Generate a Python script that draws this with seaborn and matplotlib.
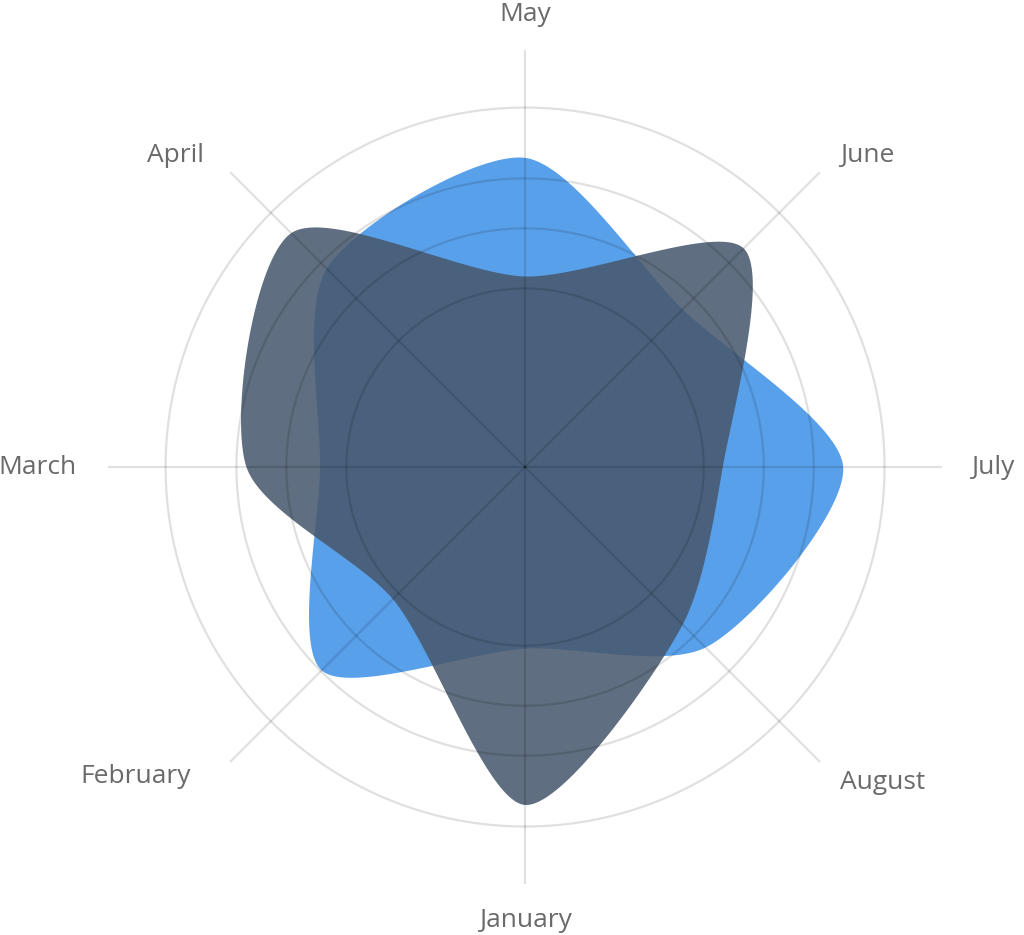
import numpy as np
import matplotlib
matplotlib.use('Agg')
import matplotlib.pyplot as plt
import seaborn as sns

# Data (scale max ring = 1)
months = ['January', 'February', 'March', 'April', 'May', 'June', 'July', 'August']
series_blue = [0.505, 0.80, 0.57, 0.78, 0.86, 0.62, 0.885, 0.71]
series_dark = [0.94, 0.52, 0.775, 0.92, 0.53, 0.86, 0.55, 0.62]
ring_levels = [0.497, 0.664, 0.803, 1.0]

sns.set_style('white')
plt.rcParams['font.family'] = ['Open Sans', 'DejaVu Sans']

n = len(months)
angles = np.arange(n) * 2 * np.pi / n


def smooth_closed(theta, r, tension=0.2, steps=80):
    # centripetal catmull-rom tangents (a little tightened), hermite segments
    pts = np.column_stack([r * np.cos(theta), r * np.sin(theta)])
    m = len(pts)
    s = np.linspace(0, 1, steps, endpoint=False)[:, None]
    h00 = 2 * s**3 - 3 * s**2 + 1
    h10 = s**3 - 2 * s**2 + s
    h01 = -2 * s**3 + 3 * s**2
    h11 = s**3 - s**2
    out = []
    for i in range(m):
        p0, p1, p2, p3 = pts[i - 1], pts[i], pts[(i + 1) % m], pts[(i + 2) % m]
        d01 = np.linalg.norm(p1 - p0) ** 0.5
        d12 = np.linalg.norm(p2 - p1) ** 0.5
        d23 = np.linalg.norm(p3 - p2) ** 0.5
        m1 = ((p1 - p0) / d01 - (p2 - p0) / (d01 + d12) + (p2 - p1) / d12) * d12
        m2 = ((p2 - p1) / d12 - (p3 - p1) / (d12 + d23) + (p3 - p2) / d23) * d12
        m1 *= 1 - tension
        m2 *= 1 - tension
        out.append(h00 * p1 + h10 * m1 + h01 * p2 + h11 * m2)
    out = np.vstack(out + [out[0][:1]])
    th = np.unwrap(np.arctan2(out[:, 1], out[:, 0]))
    return th, np.hypot(out[:, 0], out[:, 1])


fig = plt.figure(figsize=(10.24, 9.35), dpi=100)
ax = fig.add_axes([0.1055, 0.0545, 0.8145, 0.892], projection='polar')
ax.set_theta_zero_location('S')
ax.set_theta_direction(-1)
ax.set_ylim(0, 1.16)
ax.grid(False)
ax.spines['polar'].set_visible(False)
ax.set_xticks([])
ax.set_yticks([])

# shapes
th_b, r_b = smooth_closed(angles, np.array(series_blue))
ax.fill(th_b, r_b, color='#59a0ea', lw=0, zorder=2)
th_d, r_d = smooth_closed(angles, np.array(series_dark))
ax.fill(th_d, r_d, color='#47586d', alpha=0.87, lw=0, zorder=3)

# grid drawn on top, translucent so it shows through the shapes
full = np.linspace(0, 2 * np.pi, 400)
for lvl in ring_levels:
    ax.plot(full, np.full_like(full, lvl), color='black', alpha=0.12, lw=1.6, zorder=4)
for a in angles:
    ax.plot([a, a], [0, 1.16], color='black', alpha=0.12, lw=1.6, zorder=4)

# month labels: (ha, va, offset in points)
label_pos = {
    'January': ('center', 'baseline', (0, -10)), 'February': ('right', 'center', (-14, 4)),
    'March': ('right', 'center', (-2, 0)), 'April': ('right', 'center', (-4, -3)),
    'May': ('center', 'baseline', (0, 0)), 'June': ('left', 'center', (0, -3)),
    'July': ('left', 'center', (0, 0)), 'August': ('left', 'center', (0, 0)),
}
for a, m in zip(angles, months):
    ha, va, off = label_pos[m]
    ax.annotate(m, xy=(a, 1.24), xytext=off, textcoords='offset points',
                ha=ha, va=va, fontsize=19, color='#6a6a6a', annotation_clip=False)

fig.savefig('out.png', dpi=100, facecolor='white')
